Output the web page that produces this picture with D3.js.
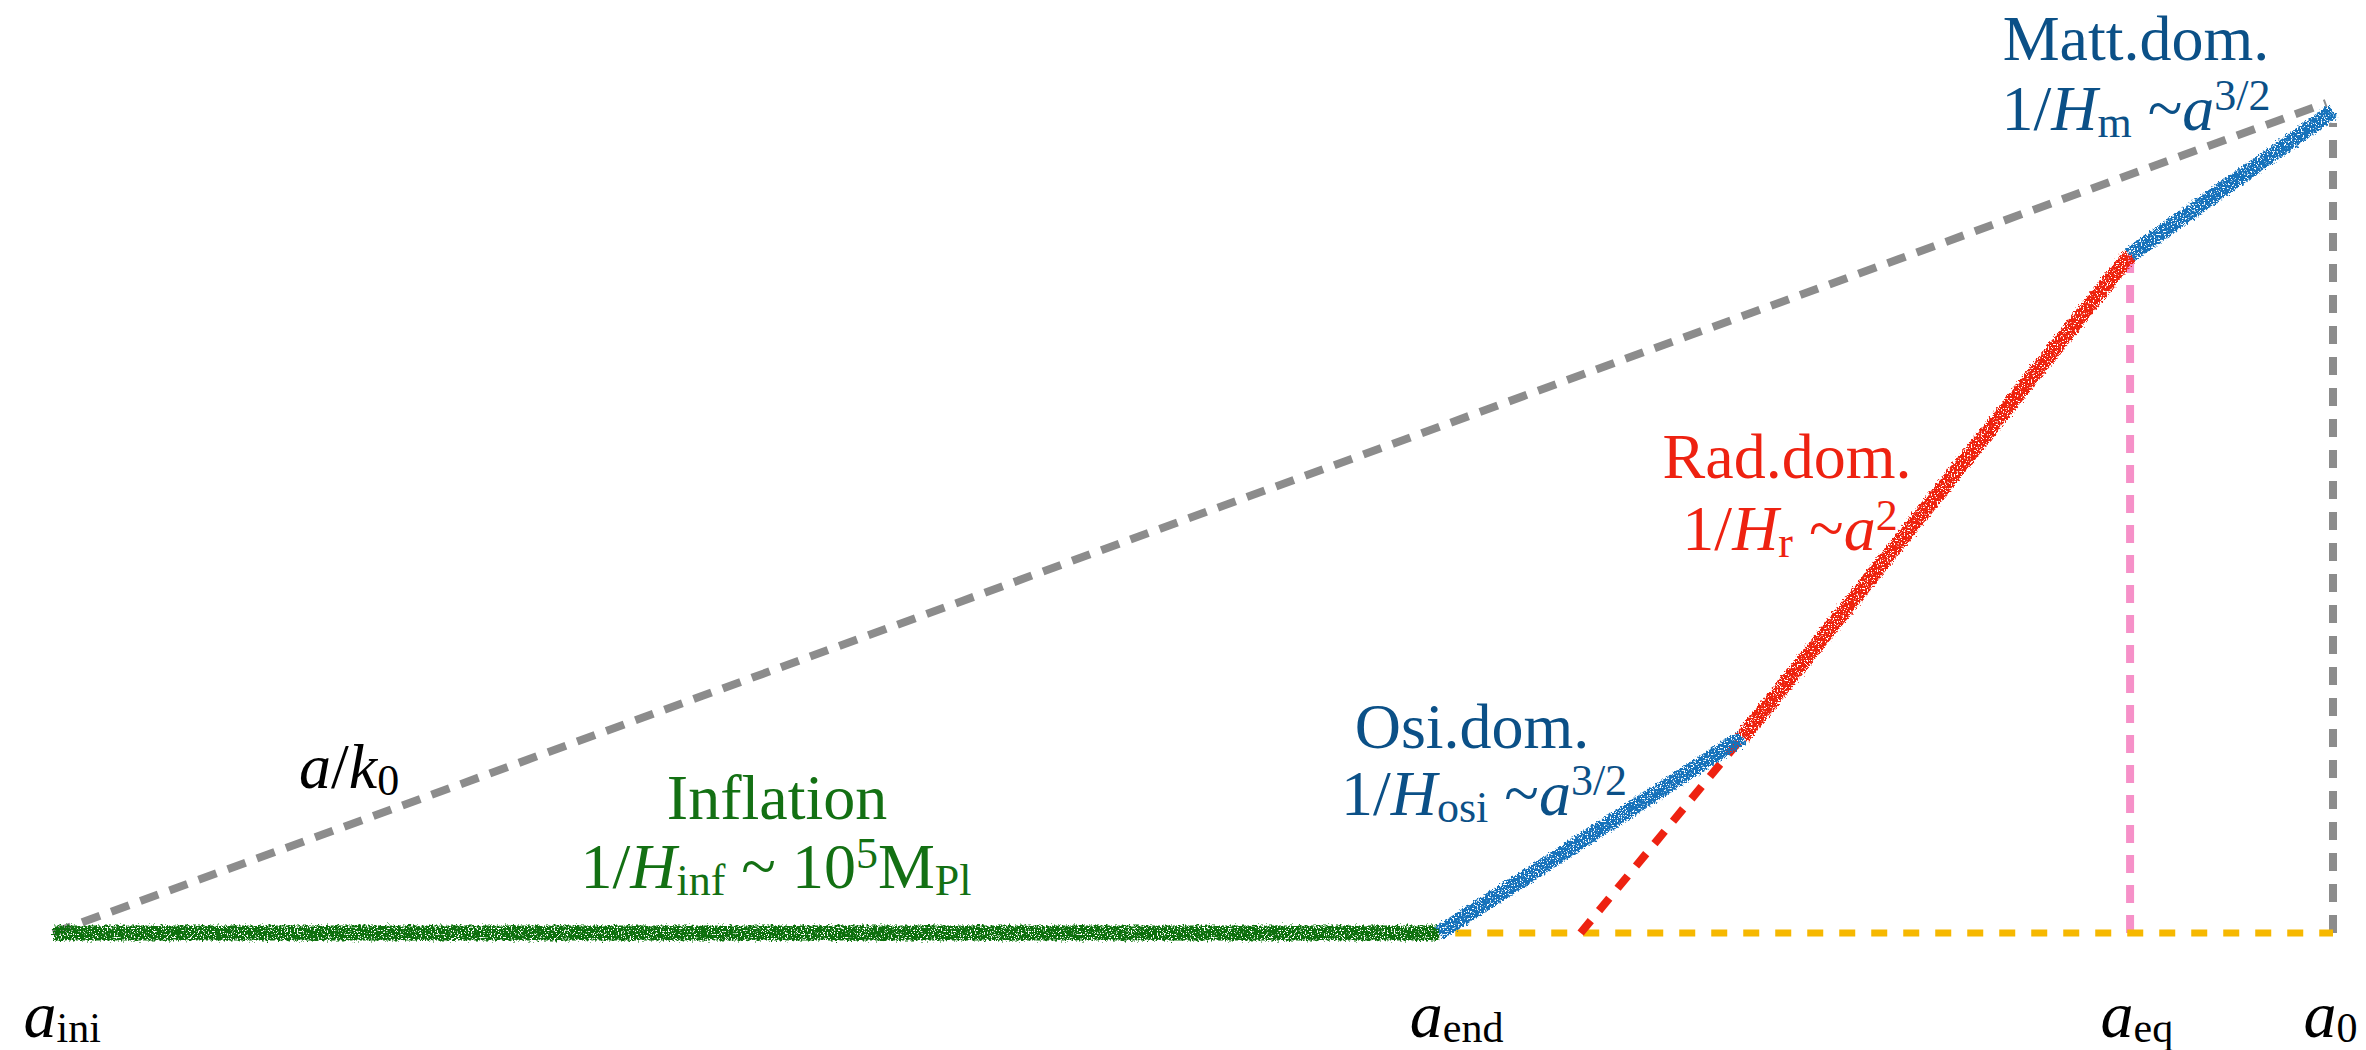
<!DOCTYPE html>
<html>
<head>
<meta charset="utf-8">
<script src="https://cdn.jsdelivr.net/npm/d3@7"></script>
<style>
  html, body { margin: 0; padding: 0; background: #ffffff; }
  svg { display: block; }
</style>
</head>
<body>
<svg id="chart" width="2366" height="1050"></svg>
<script>
// Schematic of the comoving Hubble radius 1/(aH) vs. scale factor (log-log, arbitrary units)

// scale-factor markers on the horizontal axis (log a, arbitrary units)
const tickNames = ["ini", "end", "eq", "0"];
const tickPos   = [0, 60.8, 91.1, 100];

// epochs of the horizon curve: [log a, log(1/H)]
const inflation   = [[0, 0], [60.8, 0]];
const oscillation = [[60.8, 0], [74.1, 23.6]];
const radiation   = [[74.1, 23.6], [91.1, 81.7]];
const matter      = [[91.1, 81.7], [100, 99.0]];

// reference lines
const modeK0      = [[0, 0], [99.7, 100]];      // a/k0
const radBackward = [[67.0, 0], [74.1, 23.6]];  // radiation era traced back
const floorLine   = [[60.8, 0], [100, 0]];
const eqMarker    = [[91.1, 0], [91.1, 81.7]];
const todayMarker = [[100, 0], [100, 97.6]];

const svg = d3.select("#chart");
const W = 2366, H = 1050;

const x = d3.scaleLinear().domain([0, 100]).range([53, 2333]);
const y = d3.scaleLinear().domain([0, 100]).range([933, 103]);
const line = d3.line().x(d => x(d[0])).y(d => y(d[1]));

// rough crayon-like edge for the hand-drawn curve
const defs = svg.append("defs");
const f = defs.append("filter").attr("id", "chalk")
  .attr("filterUnits", "userSpaceOnUse")
  .attr("x", 0).attr("y", 0).attr("width", W).attr("height", H);
f.append("feTurbulence").attr("type", "fractalNoise").attr("baseFrequency", 0.45)
  .attr("numOctaves", 3).attr("seed", 4).attr("result", "noise");
f.append("feDisplacementMap").attr("in", "SourceGraphic").attr("in2", "noise")
  .attr("scale", 7).attr("xChannelSelector", "R").attr("yChannelSelector", "G").attr("result", "disp");
f.append("feTurbulence").attr("type", "fractalNoise").attr("baseFrequency", 0.7)
  .attr("numOctaves", 2).attr("seed", 9).attr("result", "n2");
f.append("feColorMatrix").attr("in", "n2").attr("type", "matrix")
  .attr("values", "0 0 0 0 0  0 0 0 0 0  0 0 0 0 0  0 0 0 -12 8.0").attr("result", "holes");
f.append("feComposite").attr("in", "disp").attr("in2", "holes").attr("operator", "in");

// dashed guides
function dashed(data, color, width, dash, offset) {
  svg.append("path").datum(data).attr("d", line)
    .attr("fill", "none").attr("stroke", color).attr("stroke-width", width)
    .attr("stroke-dasharray", dash).attr("stroke-dashoffset", offset || 0);
}
dashed(modeK0, "#8c8c8c", 8, "19 12");
dashed(todayMarker, "#8c8c8c", 8, "18 13", 0);
dashed(eqMarker, "#f690c8", 8, "18 12");
dashed(floorLine, "#f6b800", 7, "16 16", -16);
dashed(radBackward, "#ee2211", 8, "16 13");

// the horizon curve
const curve = svg.append("g").attr("filter", "url(#chalk)");
[[inflation, "#0b700b"], [oscillation, "#1472bb"], [radiation, "#ee2211"], [matter, "#1472bb"]]
  .forEach(([d, c]) => {
    curve.append("path").datum(d).attr("d", line)
      .attr("fill", "none").attr("stroke", c).attr("stroke-width", 15)
      .attr("stroke-linecap", "butt");
  });

// text with italic / sub / sup pieces
const FONT = "'Liberation Serif', 'Times New Roman', serif";
function richText(px, py, parts, color, anchor, size, small) {
  const t = svg.append("text").attr("x", px).attr("y", py)
    .attr("text-anchor", anchor).attr("fill", color)
    .attr("font-family", FONT).attr("font-size", size);
  let shift = 0;
  parts.forEach(p => {
    const target = p.sub ? 7 : p.sup ? -20 : 0;
    const s = t.append("tspan").attr("dy", target - shift).text(p.t);
    if (p.sub || p.sup) s.attr("font-size", small);
    if (p.i) s.attr("font-style", "italic");
    shift = target;
  });
  return t;
}

const blueText = "#0b5087", redText = "#ee2211", greenText = "#137013";

richText(2136, 60, [{t: "Matt.dom."}], blueText, "middle", 64, 44);
richText(2136, 130, [{t: "1/"}, {t: "H", i: 1}, {t: "m", sub: 1}, {t: " ~"}, {t: "a", i: 1}, {t: "3/2", sup: 1}],
  blueText, "middle", 64, 44);

richText(1787, 478, [{t: "Rad.dom."}], redText, "middle", 64, 44);
richText(1790, 550, [{t: "1/"}, {t: "H", i: 1}, {t: "r", sub: 1}, {t: " ~"}, {t: "a", i: 1}, {t: "2", sup: 1}],
  redText, "middle", 64, 44);

richText(1472, 748, [{t: "Osi.dom."}], blueText, "middle", 64, 44);
richText(1484, 815, [{t: "1/"}, {t: "H", i: 1}, {t: "osi", sub: 1}, {t: " ~"}, {t: "a", i: 1}, {t: "3/2", sup: 1}],
  blueText, "middle", 64, 44);

richText(777, 819, [{t: "Inflation"}], greenText, "middle", 64, 44);
richText(776, 888, [{t: "1/"}, {t: "H", i: 1}, {t: "inf", sub: 1}, {t: " ~ 10"}, {t: "5", sup: 1}, {t: "M"}, {t: "Pl", sub: 1}],
  greenText, "middle", 64, 44);

richText(299, 788, [{t: "a", i: 1}, {t: "/"}, {t: "k", i: 1}, {t: "0", sub: 1}], "#000000", "start", 64, 44);

// scale-factor axis labels
const axis = d3.axisBottom(x).tickValues(tickPos).tickSize(0).tickFormat(() => "");
const ax = svg.append("g").attr("transform", `translate(0, ${y(0)})`).call(axis);
ax.select(".domain").remove();
ax.selectAll(".tick").each(function(d, i) {
  const g = d3.select(this);
  g.select("text").remove();
  const t = g.append("text").attr("x", -30).attr("y", 104)
    .attr("text-anchor", "start").attr("fill", "#000")
    .attr("font-family", FONT).attr("font-size", 66);
  t.append("tspan").attr("font-style", "italic").text("a");
  t.append("tspan").attr("font-size", 42).attr("dy", 5).text(tickNames[i]);
});
</script>
</body>
</html>
